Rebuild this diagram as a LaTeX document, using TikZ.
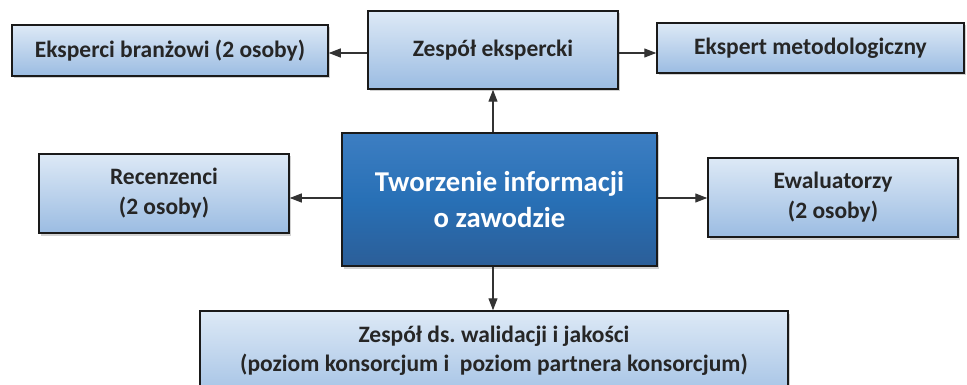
\documentclass[tikz,border=0pt]{standalone}
\usepackage{fontspec}
\setmainfont{Carlito}
\frenchspacing
\usetikzlibrary{arrows.meta,shadows}
\definecolor{lighttop}{HTML}{DDE9F6}
\definecolor{lightbot}{HTML}{9BBCE2}
\definecolor{darktop}{HTML}{3D7EC2}
\definecolor{darkmid}{HTML}{2870B6}
\definecolor{darkbot}{HTML}{2B5E98}
\definecolor{txt}{HTML}{262626}
\definecolor{edge}{HTML}{1A1A1A}
\definecolor{conn}{HTML}{333333}
\tikzset{
  box/.style={draw=edge, line width=1.5pt, rectangle, inner sep=0pt,
    top color=lighttop, bottom color=lightbot, text=txt,
    font=\bfseries\fontsize{23.5}{30}\selectfont, align=center,
    drop shadow={shadow xshift=2pt, shadow yshift=-2.5pt, opacity=0.35}},
  mainbox/.style={draw=edge, line width=1.5pt, rectangle, inner sep=0pt,
    top color=darktop, bottom color=darkbot, middle color=darkmid, text=white,
    font=\bfseries\fontsize{28.7}{36}\selectfont, align=center,
    drop shadow={shadow xshift=2pt, shadow yshift=-2.5pt, opacity=0.35}},
  link/.style={draw=conn, line width=1.2pt, -{Triangle[length=12pt,width=9pt]}}
}
\begin{document}
\begin{tikzpicture}[x=1pt,y=-1pt]
\useasboundingbox (0,0) rectangle (967,385);
\fill[white] (0,0) rectangle (967,385);
\node[box, minimum width=316pt, minimum height=51pt] (ek) at (170,50.5) {Eksperci branżowi (2 osoby)};
\node[box, minimum width=250pt, minimum height=78pt] (ze) at (493,50) {Zespół ekspercki};
\node[box, minimum width=307pt, minimum height=50pt] (em) at (810.5,48) {Ekspert metodologiczny};
\node[mainbox, minimum width=315pt, minimum height=133pt] (ce) at (499.5,199.5) {Tworzenie informacji\\o zawodzie};
\node[box, minimum width=250pt, minimum height=79pt] (re) at (164,193.5) {Recenzenci\\(2 osoby)};
\node[box, minimum width=250pt, minimum height=79pt] (ew) at (833,197.5) {Ewaluatorzy\\(2 osoby)};
\node[box, minimum width=588pt, minimum height=100pt] (bo) at (494,361) {};
\node[text=txt, font=\bfseries\fontsize{23.5}{29}\selectfont, align=center] (botext) at (494,351) {Zespół ds. walidacji i jakości\\(poziom konsorcjum i \ poziom partnera konsorcjum)};
\draw[link] ([yshift=-3pt]ze.west) -- ([yshift=-3pt]ze.west -| ek.east);
\draw[link] ([yshift=-3pt]ze.east) -- ([yshift=-3pt]ze.east -| em.west);
\draw[link] (ze.south |- ce.north) -- (ze.south);
\draw[link] ([yshift=1.5pt]ce.west) -- ([yshift=1.5pt]ce.west -| re.east);
\draw[link] ([yshift=1.5pt]ce.east) -- ([yshift=1.5pt]ce.east -| ew.west);
\draw[link] (ze.south |- ce.south) -- (ze.south |- bo.north);
\end{tikzpicture}
\end{document}
